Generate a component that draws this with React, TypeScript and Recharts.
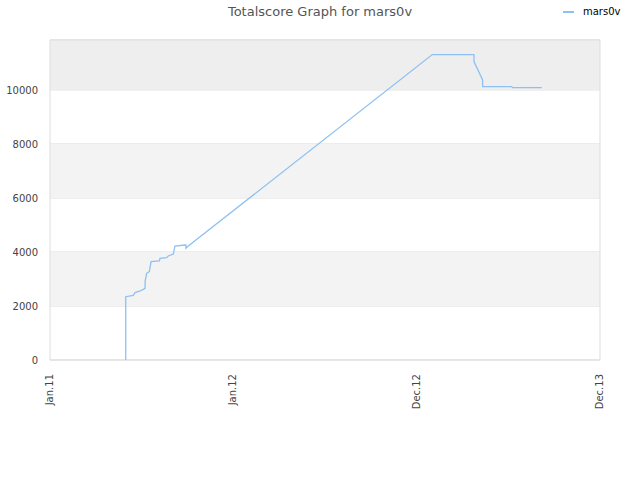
import {
  LineChart, Line, XAxis, YAxis, CartesianGrid, ReferenceArea
} from "recharts";

// x = months since Jan 2011, y = total score
const months = [
  4.82, 4.82, 5.3, 5.41, 5.73, 5.94, 6.05, 6.05, 6.15, 6.32, 6.43, 6.96,
  7.0, 7.42, 7.53, 7.85, 7.95, 8.59, 8.65, 8.65, 8.8, 24.33, 26.98,
  26.98, 27.53, 27.53, 29.38, 29.44, 31.29,
];
const scores = [
  0, 2344, 2395, 2494, 2556, 2617, 2654, 2901, 3210, 3272, 3642, 3667,
  3765, 3790, 3852, 3926, 4222, 4259, 4259, 4136, 4222, 11309, 11309,
  11049, 10370, 10123, 10123, 10086, 10086,
];

const xTicks = [0, 11.67, 23.33, 35];
const xLabels = ["Jan.11", "Jan.12", "Dec.12", "Dec.13"];
const yTicks = [0, 2000, 4000, 6000, 8000, 10000];
const yMax = 11850;

const data = months.map((m, i) => ({ m, score: scores[i] }));

const FONT = "'DejaVu Sans', sans-serif";

const XTick = (props: any) => {
  const { x, y, payload } = props;
  const idx = xTicks.indexOf(payload.value);
  return (
    <text
      x={x}
      y={y + 12}
      transform={`rotate(-90, ${x}, ${y + 12})`}
      textAnchor="end"
      dy={3}
      fontSize={10}
      fontFamily={FONT}
      fill="#444"
    >
      {xLabels[idx]}
    </text>
  );
};

export default function App() {
  return (
    <div style={{ position: "absolute", left: 0, top: 0, width: 640, height: 480, background: "#fff" }}>
      <div
        style={{
          position: "absolute", left: 0, top: 4, width: 640, textAlign: "center",
          fontFamily: FONT, fontSize: 13, color: "#555",
        }}
      >
        Totalscore Graph for mars0v
      </div>
      <div
        style={{
          position: "absolute", left: 563, top: 6, display: "flex", alignItems: "center",
          fontFamily: FONT, fontSize: 10, color: "#000",
        }}
      >
        <span style={{ display: "inline-block", width: 11, height: 2, background: "#8ec0f2", marginRight: 9 }} />
        mars0v
      </div>
      <LineChart
        width={640}
        height={480}
        data={data}
        margin={{ top: 40, right: 40, left: 0, bottom: 70 }}
      >
        <ReferenceArea x1={0} x2={35} y1={2000} y2={4000} fill="#f3f3f3" fillOpacity={1} />
        <ReferenceArea x1={0} x2={35} y1={6000} y2={8000} fill="#f3f3f3" fillOpacity={1} />
        <ReferenceArea x1={0} x2={35} y1={10000} y2={yMax} fill="#eeeeee" fillOpacity={1} />
        <CartesianGrid vertical={false} stroke="#dddddd" />
        <ReferenceArea x1={0} x2={35} y1={0} y2={yMax} fill="none" stroke="#dddddd" />
        <XAxis
          dataKey="m"
          type="number"
          domain={[0, 35]}
          ticks={xTicks}
          tick={<XTick />}
          tickLine={false}
          axisLine={false}
          tickSize={0}
          height={50}
          interval={0}
        />
        <YAxis
          type="number"
          domain={[0, yMax]}
          ticks={yTicks}
          width={50}
          tickLine={false}
          axisLine={false}
          tickSize={0}
          tickMargin={12}
          tick={{ fontSize: 10, fontFamily: FONT, fill: "#444" }}
        />
        <Line
          type="linear"
          dataKey="score"
          stroke="#8ec0f2"
          strokeWidth={1.3}
          dot={false}
          isAnimationActive={false}
        />
      </LineChart>
    </div>
  );
}
